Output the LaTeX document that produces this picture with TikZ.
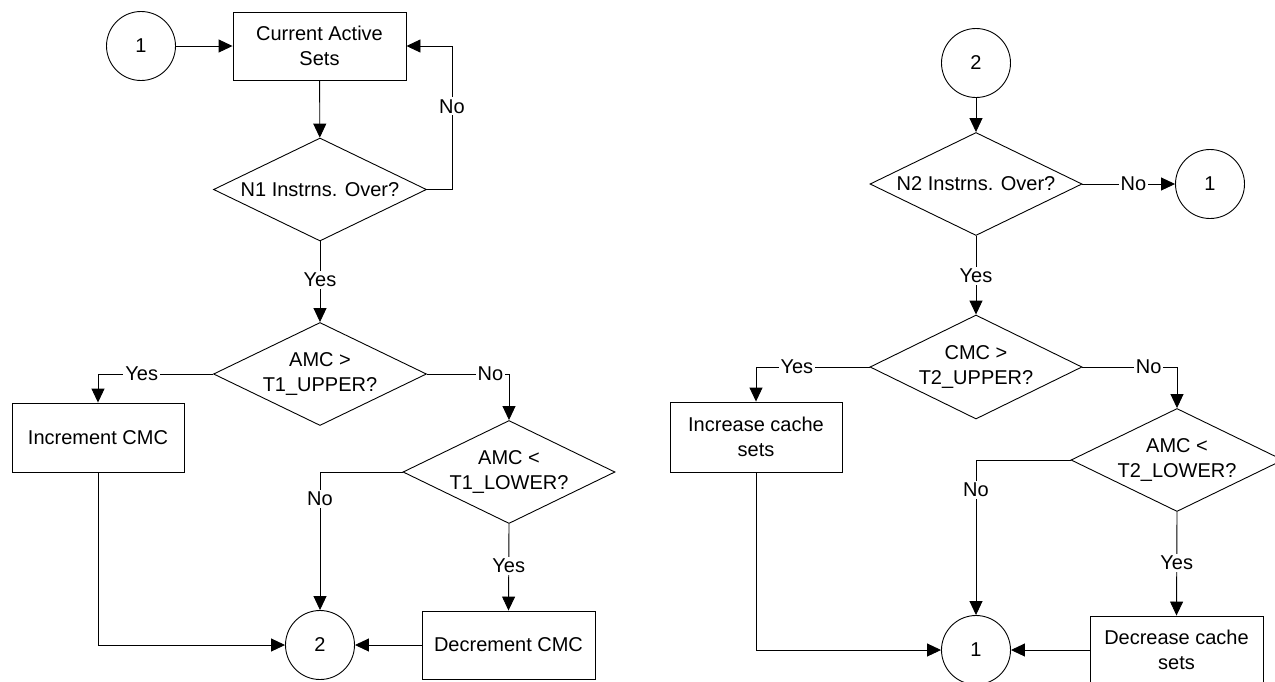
\documentclass[tikz,border=0pt]{standalone}
\usepackage{fontspec}
\setmainfont{Liberation Sans}
\usetikzlibrary{shapes.geometric,arrows.meta}
\begin{document}
\begin{tikzpicture}[x=1pt,y=-1pt,
  every node/.style={font=\fontsize{20}{25}\selectfont},
  proc/.style={draw, rectangle, minimum width=173pt, minimum height=68pt, align=center, inner sep=0pt, line width=0.9pt},
  decision/.style={draw, diamond, minimum width=213pt, minimum height=103pt, inner sep=0pt, line width=0.9pt},
  conn/.style={draw, circle, minimum size=69pt, inner sep=0pt, line width=0.9pt},
  lbl/.style={fill=white, inner sep=2pt},
  flow/.style={line width=0.9pt, -{Triangle[length=14pt,width=13pt]}},
  plain/.style={line width=0.9pt}]
\useasboundingbox (0,0) rectangle (1275,681);
\clip (0,0) rectangle (1275,681);
% ---------- left flow ----------
\node[conn] (c1a) at (141,46) {1};
\node[proc] (box1) at (319.5,46) {Current Active\\Sets};
\node[decision, label={[align=center]center:{N1 Instrns. Over?}}] (d1) at (320,189.5) {};
\node[decision, label={[align=center]center:{AMC >\\T1\_UPPER?}}] (d2) at (320,374) {};
\node[proc, minimum width=172pt, minimum height=69pt] (inc) at (98,437.5) {Increment CMC};
\node[decision, minimum width=212pt, label={[align=center]center:{AMC <\\T1\_LOWER?}}] (d3) at (509,472) {};
\node[conn] (c2a) at (320,645) {2};
\node[proc] (dec) at (508.5,645) {Decrement CMC};

\draw[flow] (c1a) -- (box1);
\draw[flow] (box1) -- (d1);
\draw[flow] (d1.east) -- ++(25,0) |- node[lbl,pos=0.29]{No} (box1.east);
\draw[flow] (d1.south) -- node[lbl,pos=0.476]{Yes} (d2.north);
\draw[flow] (d2.west) -| node[lbl,pos=0.31]{Yes} (inc.north);
\draw[flow] (d2.east) -| node[lbl,pos=0.387]{No} (d3.north);
\draw[flow] (d3.west) -| node[lbl,pos=0.598]{No} (c2a.north);
\draw[flow] (d3.south) -- node[lbl,pos=0.48]{Yes} (dec.north);
\draw[flow] (inc.south) |- (c2a.west);
\draw[flow] (dec.west) -- (c2a.east);

% ---------- right flow ----------
\node[conn] (c2b) at (976,63) {2};
\node[decision, minimum width=212pt, label={[align=center]center:{N2 Instrns. Over?}}] (d4) at (976,184) {};
\node[conn] (c1b) at (1210,184) {1};
\node[decision, minimum width=212pt, minimum height=104pt, label={[align=center]center:{CMC >\\T2\_UPPER?}}] (d5) at (976,367) {};
\node[proc, minimum width=172pt, minimum height=70pt] (incr) at (756,437) {Increase cache\\sets};
\node[decision, minimum width=212pt, label={[align=center]center:{AMC <\\T2\_LOWER?}}] (d6) at (1177,460) {};
\node[conn] (c1c) at (976,650) {1};
\node[proc] (decr) at (1176.5,650) {Decrease cache\\sets};

\draw[flow] (c2b) -- (d4);
\draw[flow] (d4.east) -- node[lbl,pos=0.55]{No} (c1b.west);
\draw[flow] (d4.south) -- node[lbl,pos=0.51]{Yes} (d5.north);
\draw[flow] (d5.west) -| node[lbl,pos=0.32]{Yes} (incr.north);
\draw[flow] (d5.east) -| node[lbl,pos=0.35]{No} (d6.north);
\draw[flow] (d6.west) -| node[lbl,pos=0.597]{No} (c1c.north);
\draw[flow] (d6.south) -- node[lbl,pos=0.49]{Yes} (decr.north);
\draw[flow] (incr.south) |- (c1c.west);
\draw[flow] (decr.west) -- (c1c.east);
\end{tikzpicture}
\end{document}
